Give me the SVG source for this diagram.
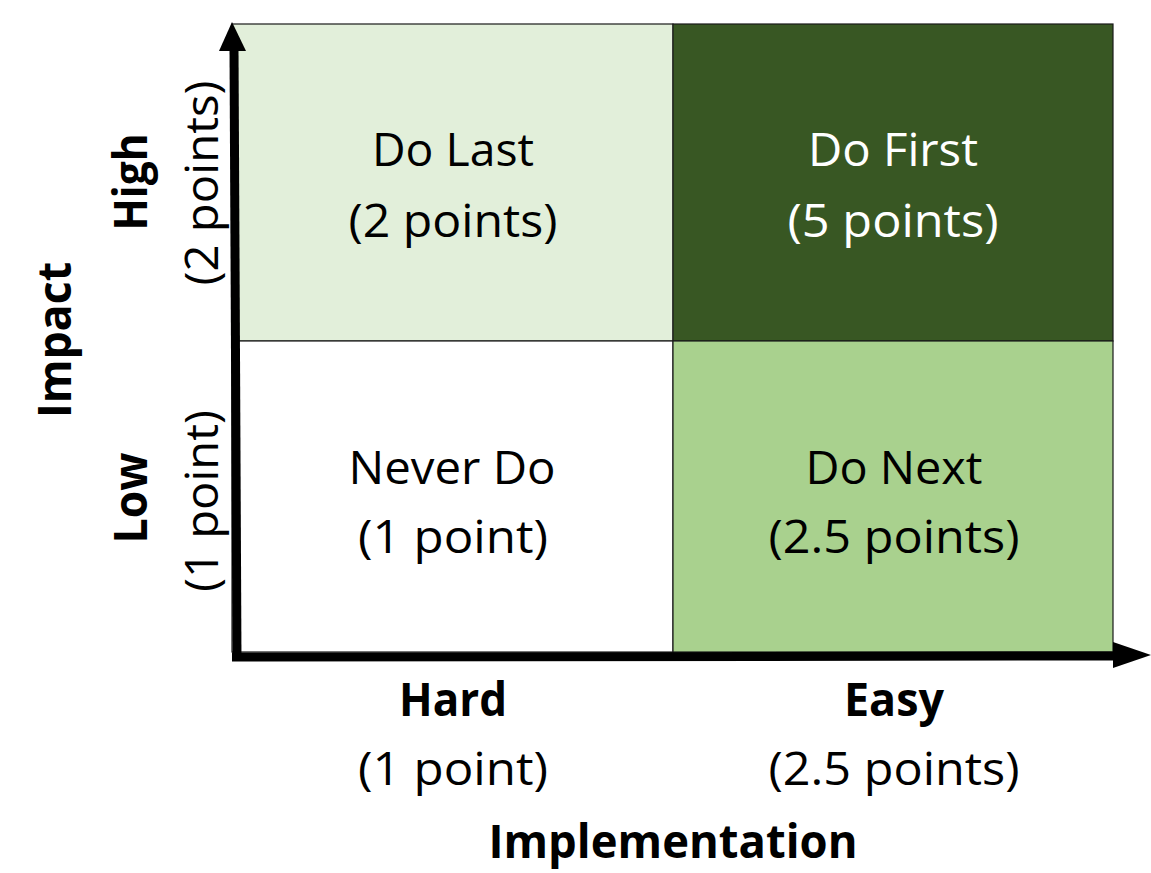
<svg xmlns="http://www.w3.org/2000/svg" width="1151" height="873" viewBox="0 0 1151 873">
  <style>
    .cell { stroke: #1a1a1a; stroke-width: 1.2; }
    .t { font-family: "Open Sans", "Noto Sans", sans-serif; font-size: 46px; fill: #000; text-anchor: middle; }
    .b { font-family: "Open Sans", "Noto Sans", sans-serif; font-size: 47px; font-weight: bold; fill: #000; text-anchor: middle; }
    .w { fill: #ffffff; }
    .axis { stroke: #000; stroke-width: 9; fill: none; }
  </style>
  <rect width="1151" height="873" fill="#ffffff"/>
  <g id="do-last">
    <rect class="cell" x="232" y="24" width="441" height="317" fill="#E2EFDA"/>
    <text class="t" x="453" y="166" textLength="162" lengthAdjust="spacingAndGlyphs">Do Last</text>
    <text class="t" x="453" y="237" textLength="209" lengthAdjust="spacingAndGlyphs">(2 points)</text>
  </g>
  <g id="do-first">
    <rect class="cell" x="673" y="24" width="440" height="317" fill="#385723"/>
    <text class="t w" x="893" y="166" textLength="170" lengthAdjust="spacingAndGlyphs">Do First</text>
    <text class="t w" x="893" y="237" textLength="211" lengthAdjust="spacingAndGlyphs">(5 points)</text>
  </g>
  <g id="never-do">
    <rect class="cell" x="232" y="341" width="441" height="311" fill="#ffffff"/>
    <text class="t" x="452" y="484" textLength="207" lengthAdjust="spacingAndGlyphs">Never Do</text>
    <text class="t" x="453" y="553" textLength="190" lengthAdjust="spacingAndGlyphs">(1 point)</text>
  </g>
  <g id="do-next">
    <rect class="cell" x="673" y="341" width="440" height="311" fill="#A9D18E"/>
    <text class="t" x="894" y="484" textLength="177" lengthAdjust="spacingAndGlyphs">Do Next</text>
    <text class="t" x="894" y="553" textLength="251" lengthAdjust="spacingAndGlyphs">(2.5 points)</text>
  </g>
  <g id="connectors">
    <line class="axis" x1="237" y1="661" x2="234" y2="48"/>
    <polygon points="232,22 219,51 246,51" fill="#000"/>
    <line class="axis" x1="232" y1="657" x2="1116" y2="656"/>
    <polygon points="1151,655 1113,642 1113,668" fill="#000"/>
  </g>
  <g id="x-axis-labels">
    <text class="b" x="453" y="716" textLength="108" lengthAdjust="spacingAndGlyphs">Hard</text>
    <text class="t" x="453" y="785" textLength="190" lengthAdjust="spacingAndGlyphs">(1 point)</text>
    <text class="b" x="894" y="716" textLength="100" lengthAdjust="spacingAndGlyphs">Easy</text>
    <text class="t" x="894" y="785" textLength="251" lengthAdjust="spacingAndGlyphs">(2.5 points)</text>
    <text class="b" x="673" y="858" textLength="369" lengthAdjust="spacingAndGlyphs">Implementation</text>
  </g>
  <g id="y-axis-labels">
    <text class="b" transform="translate(71,340) rotate(-90)" x="0" y="0" textLength="156" lengthAdjust="spacingAndGlyphs">Impact</text>
    <text class="b" transform="translate(147,182) rotate(-90)" x="0" y="0" textLength="97" lengthAdjust="spacingAndGlyphs">High</text>
    <text class="t" transform="translate(218,183) rotate(-90)" x="0" y="0" textLength="205" lengthAdjust="spacingAndGlyphs">(2 points)</text>
    <text class="b" transform="translate(147,498) rotate(-90)" x="0" y="0" textLength="91" lengthAdjust="spacingAndGlyphs">Low</text>
    <text class="t" transform="translate(218,501) rotate(-90)" x="0" y="0" textLength="182" lengthAdjust="spacingAndGlyphs">(1 point)</text>
  </g>
</svg>
